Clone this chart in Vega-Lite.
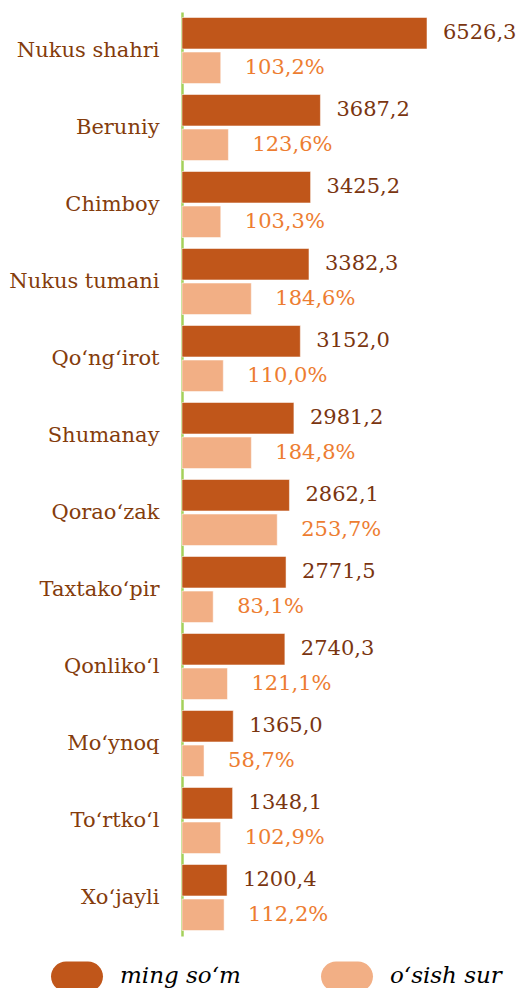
{
  "$schema": "https://vega.github.io/schema/vega-lite/v6.json",
  "width": 300,
  "height": 924,
  "autosize": {"type": "none"},
  "padding": {"left": 182, "top": 12, "right": 37, "bottom": 52},
  "background": "white",
  "config": {"view": {"stroke": null}, "font": "DejaVu Serif"},
  "data": {
    "values": [
      {"region": "Nukus shahri", "series": "ming so‘m", "value": 6526.3, "label": "6526,3"},
      {"region": "Nukus shahri", "series": "o‘sish sur", "value": 103.2, "label": "103,2%"},
      {"region": "Beruniy", "series": "ming so‘m", "value": 3687.2, "label": "3687,2"},
      {"region": "Beruniy", "series": "o‘sish sur", "value": 123.6, "label": "123,6%"},
      {"region": "Chimboy", "series": "ming so‘m", "value": 3425.2, "label": "3425,2"},
      {"region": "Chimboy", "series": "o‘sish sur", "value": 103.3, "label": "103,3%"},
      {"region": "Nukus tumani", "series": "ming so‘m", "value": 3382.3, "label": "3382,3"},
      {"region": "Nukus tumani", "series": "o‘sish sur", "value": 184.6, "label": "184,6%"},
      {"region": "Qo‘ng‘irot", "series": "ming so‘m", "value": 3152.0, "label": "3152,0"},
      {"region": "Qo‘ng‘irot", "series": "o‘sish sur", "value": 110.0, "label": "110,0%"},
      {"region": "Shumanay", "series": "ming so‘m", "value": 2981.2, "label": "2981,2"},
      {"region": "Shumanay", "series": "o‘sish sur", "value": 184.8, "label": "184,8%"},
      {"region": "Qorao‘zak", "series": "ming so‘m", "value": 2862.1, "label": "2862,1"},
      {"region": "Qorao‘zak", "series": "o‘sish sur", "value": 253.7, "label": "253,7%"},
      {"region": "Taxtako‘pir", "series": "ming so‘m", "value": 2771.5, "label": "2771,5"},
      {"region": "Taxtako‘pir", "series": "o‘sish sur", "value": 83.1, "label": "83,1%"},
      {"region": "Qonliko‘l", "series": "ming so‘m", "value": 2740.3, "label": "2740,3"},
      {"region": "Qonliko‘l", "series": "o‘sish sur", "value": 121.1, "label": "121,1%"},
      {"region": "Mo‘ynoq", "series": "ming so‘m", "value": 1365.0, "label": "1365,0"},
      {"region": "Mo‘ynoq", "series": "o‘sish sur", "value": 58.7, "label": "58,7%"},
      {"region": "To‘rtko‘l", "series": "ming so‘m", "value": 1348.1, "label": "1348,1"},
      {"region": "To‘rtko‘l", "series": "o‘sish sur", "value": 102.9, "label": "102,9%"},
      {"region": "Xo‘jayli", "series": "ming so‘m", "value": 1200.4, "label": "1200,4"},
      {"region": "Xo‘jayli", "series": "o‘sish sur", "value": 112.2, "label": "112,2%"}
    ]
  },
  "encoding": {
    "y": {
      "field": "region", "type": "nominal", "sort": null,
      "scale": {"paddingInner": 0.143, "paddingOuter": 0.0715},
      "axis": {
        "title": null, "ticks": false, "labelPadding": 23,
        "labelFont": "DejaVu Serif", "labelFontSize": 21, "labelColor": "#843C0C",
        "domainColor": "#A4D05A", "domainWidth": 2.5
      }
    },
    "yOffset": {
      "field": "series", "type": "nominal", "sort": ["ming so‘m", "o‘sish sur"],
      "scale": {"paddingInner": 0.09, "paddingOuter": 0}
    }
  },
  "layer": [
    {
      "transform": [{"filter": "datum.series === 'ming so‘m'"}],
      "encoding": {
        "x": {"field": "value", "type": "quantitative", "scale": {"domain": [0, 7991.4]}, "axis": null}
      },
      "layer": [
        {
          "mark": {"type": "bar", "stroke": "#FFFFFF", "strokeOpacity": 0.5, "strokeWidth": 1},
          "encoding": {
            "color": {
              "field": "series", "type": "nominal",
              "scale": {"domain": ["ming so‘m", "o‘sish sur"], "range": ["#C0561A", "#F2AF85"]},
              "legend": {
                "title": null, "orient": "none", "legendX": -131, "legendY": 938,
                "direction": "horizontal",
                "symbolType": "M-0.42,-0.58L0.42,-0.58A0.58,0.58 0 0 1 0.42,0.58L-0.42,0.58A0.58,0.58 0 0 1 -0.42,-0.58Z",
                "symbolSize": 2704, "symbolStrokeWidth": 0,
                "labelFont": "DejaVu Serif", "labelFontStyle": "italic", "labelFontSize": 23,
                "labelColor": "#000000", "labelOffset": 17, "columnPadding": 80
              }
            }
          }
        },
        {
          "mark": {"type": "text", "align": "left", "baseline": "middle", "dx": 16, "fontSize": 21, "color": "#7A3510", "font": "DejaVu Serif"},
          "encoding": {"text": {"field": "label"}}
        }
      ]
    },
    {
      "transform": [{"filter": "datum.series === 'o‘sish sur'"}],
      "encoding": {
        "x": {"field": "value", "type": "quantitative", "scale": {"domain": [0, 799.14]}, "axis": null}
      },
      "layer": [
        {
          "mark": {"type": "bar", "stroke": "#FFFFFF", "strokeOpacity": 0.5, "strokeWidth": 1},
          "encoding": {
            "color": {"field": "series", "type": "nominal"}
          }
        },
        {
          "mark": {"type": "text", "align": "left", "baseline": "middle", "dx": 24, "fontSize": 21, "color": "#ED7D31", "font": "DejaVu Serif"},
          "encoding": {"text": {"field": "label"}}
        }
      ]
    }
  ],
  "resolve": {"scale": {"x": "independent"}}
}
